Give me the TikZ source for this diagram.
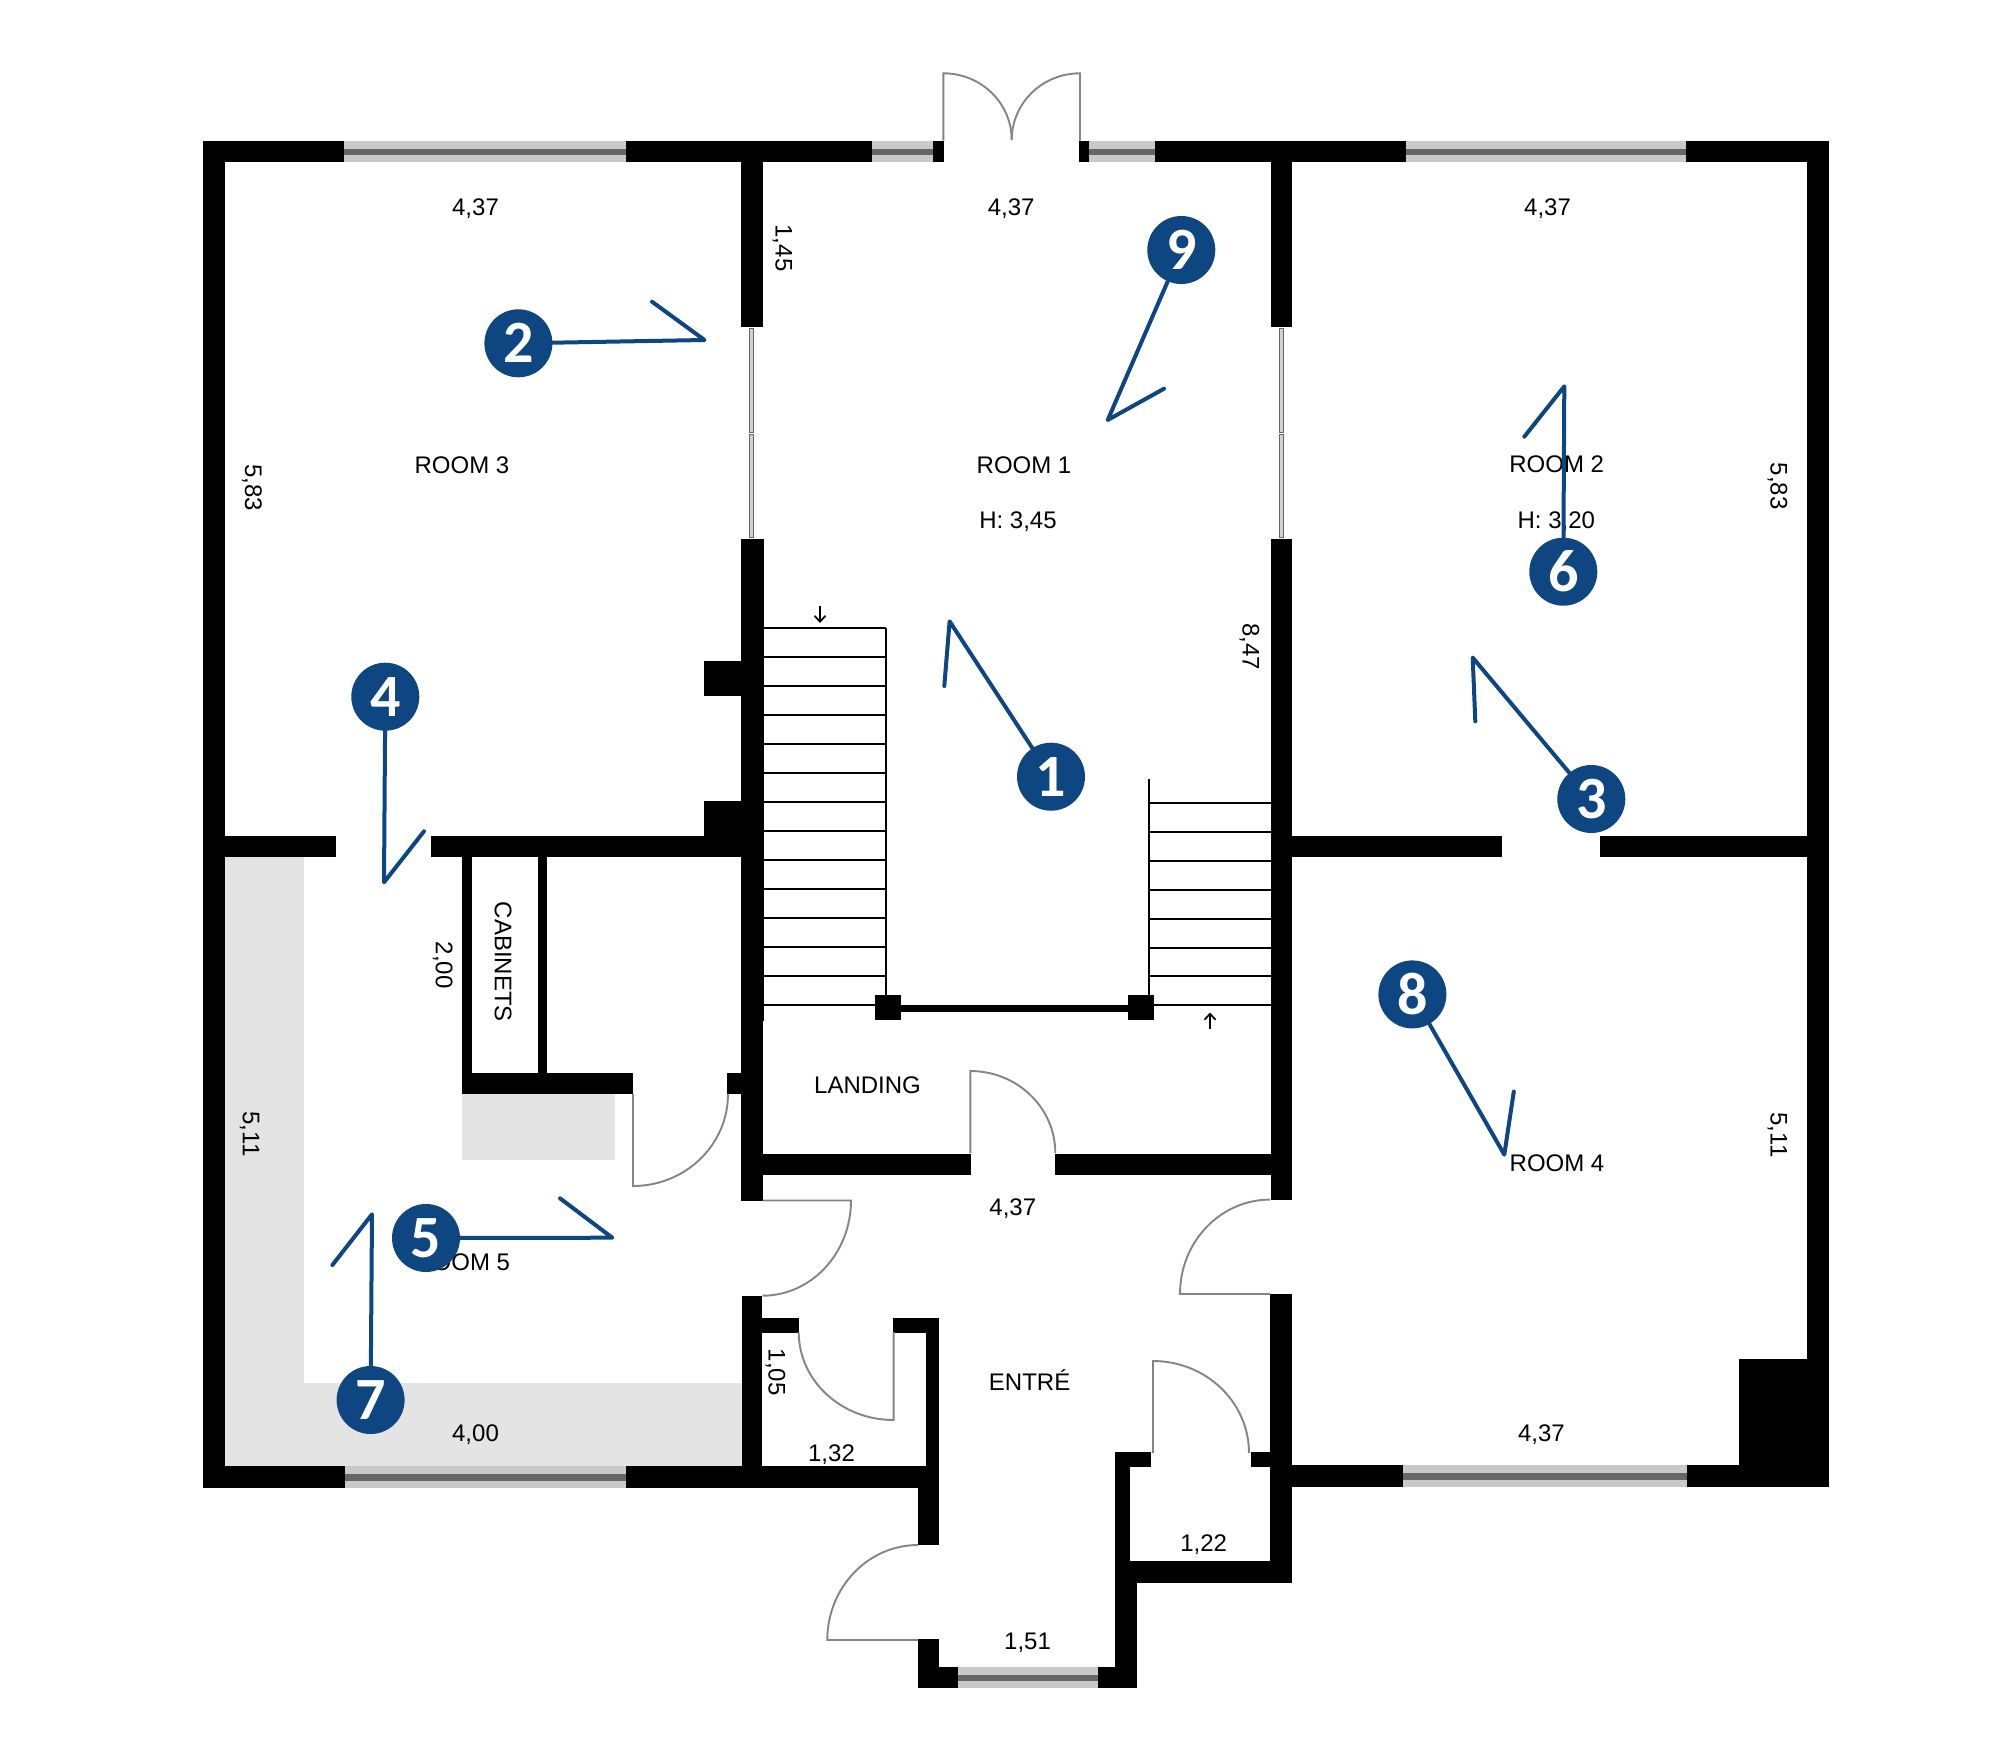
\documentclass[tikz,border=0pt]{standalone}
\usepackage{fontspec}
\setmainfont{Liberation Sans}
\newfontfamily\badgefont{Carlito}[BoldFont={Carlito Bold}]
\usetikzlibrary{arrows.meta}
\definecolor{wallc}{HTML}{000000}
\definecolor{zone}{HTML}{E4E4E4}
\definecolor{glassl}{HTML}{C9C9C9}
\definecolor{glassd}{HTML}{666666}
\definecolor{doorc}{HTML}{858585}
\definecolor{pin}{HTML}{0D4680}
\newcommand{\arcHV}[4]{(#1,#2) .. controls ({#1+0.5523*(#3-(#1))},#2) and (#3,{#4+0.5523*(#2-(#4))}) .. (#3,#4)}
\newcommand{\arcVH}[4]{(#1,#2) .. controls (#1,{#2+0.5523*(#4-(#2))}) and ({#3+0.5523*(#1-(#3))},#4) .. (#3,#4)}
\newcommand{\glassH}[4]{%
  \fill[glassl] (#1,#3) rectangle (#2,#4);
  \fill[glassd] ({#1},{#3+0.37*(#4-#3)}) rectangle ({#2},{#3+0.67*(#4-#3)});}
\tikzset{
  x=1pt,y=-1pt,
  wall/.style={fill=wallc},
  zonefill/.style={fill=zone},
  swing/.style={draw=doorc,line width=1.9pt},
  thinglass/.style={fill=glassl!85!white,draw=black!60,line width=1pt},
  tread/.style={draw=black,line width=2pt},
  dirarrow/.style={draw=black,line width=1.7pt,-{Straight Barb[length=6pt,width=11pt]}},
  lab/.style={inner sep=0pt,text height=17pt,text depth=0pt,font=\fontsize{24}{28}\selectfont},
  vlab/.style={lab,rotate=-90},
  badge/.style={circle,fill=pin,minimum size=68pt,inner sep=0pt,text=white,font=\badgefont\bfseries\fontsize{60}{60}\selectfont},
  sight/.style={draw=pin,line width=4pt,line cap=round,line join=round},
}
\begin{document}
\begin{tikzpicture}
\useasboundingbox (0,0) rectangle (2000,1764);
\fill[white] (0,0) rectangle (2000,1764);
% shaded zones
\fill[zonefill] (224.6,857) rectangle (304,1466);
\fill[zonefill] (224.6,1383.3) rectangle (741.5,1466);
\fill[zonefill] (462,1094.3) rectangle (615,1160);
% windows
\glassH{344.3}{626}{140.7}{162.3}
\glassH{872}{932.7}{140.7}{162.3}
\glassH{1089}{1155}{140.7}{162.3}
\glassH{1405.7}{1686}{140.7}{162.3}
\glassH{345}{626}{1466}{1487.7}
\glassH{1402.8}{1687}{1465}{1487}
\glassH{958}{1098}{1666.7}{1688}
% sliding panels
\draw[thinglass] (749.6,328) rectangle (753.7,432.5);
\draw[thinglass] (749.6,434) rectangle (753.7,537.7);
\draw[thinglass] (1279.6,328) rectangle (1283.6,432.5);
\draw[thinglass] (1279.6,434) rectangle (1283.6,537.7);
% stairs
\foreach \i in {0,...,13} \draw[tread] (764,{628+\i*29.0}) -- (886.3,{628+\i*29.0});
\draw[tread] (886.3,628) -- (886.3,1020);
\draw[tread] (1149,779.3) -- (1149,1000);
\foreach \i in {0,...,7} \draw[tread] (1149,{803.3+\i*28.86}) -- (1271,{803.3+\i*28.86});
% walls
\fill[wall] (202.8,140.7) rectangle (344.3,162.3);
\fill[wall] (626,140.7) rectangle (872,162.3);
\fill[wall] (932.7,140.7) rectangle (944.3,162.3);
\fill[wall] (1079,140.7) rectangle (1089,162.3);
\fill[wall] (1155,140.7) rectangle (1405.7,162.3);
\fill[wall] (1686,140.7) rectangle (1828.6,162.3);
\fill[wall] (202.8,140.7) rectangle (224.6,1487.7);
\fill[wall] (1807,140.7) rectangle (1828.6,1487);
\fill[wall] (741,162) rectangle (762.6,327);
\fill[wall] (741,539) rectangle (764.4,1020.7);
\fill[wall] (741,1020) rectangle (762.6,1201);
\fill[wall] (741.5,1295.5) rectangle (762.4,1487);
\fill[wall] (1270.6,162) rectangle (1291.8,327);
\fill[wall] (1270.6,539) rectangle (1291.8,1199.6);
\fill[wall] (1270.3,1293.7) rectangle (1291.8,1582.5);
\fill[wall] (224,835.7) rectangle (336,857.2);
\fill[wall] (431,835.7) rectangle (741.5,857.2);
\fill[wall] (1291,835.7) rectangle (1502,857.2);
\fill[wall] (1600,835.7) rectangle (1807.5,857.2);
\fill[wall] (704,661) rectangle (741.5,695.7);
\fill[wall] (704,801) rectangle (741.5,836);
\fill[wall] (462,857) rectangle (471.7,1073.6);
\fill[wall] (537.8,857) rectangle (547,1073.6);
\fill[wall] (462,1073.3) rectangle (633,1094.3);
\fill[wall] (727,1073.3) rectangle (741.5,1094.3);
\fill[wall] (762,1153.5) rectangle (971.4,1175);
\fill[wall] (1055,1153.5) rectangle (1271,1175);
\fill[wall] (875,995) rectangle (901,1020);
\fill[wall] (1128,995) rectangle (1153.7,1020);
\fill[wall] (901,1005) rectangle (1128,1011.7);
\fill[wall] (762,1318.3) rectangle (798.7,1332.7);
\fill[wall] (893,1318.3) rectangle (939.4,1332.7);
\fill[wall] (925.6,1318.3) rectangle (939.4,1466.5);
\fill[wall] (202.8,1466) rectangle (345,1487.7);
\fill[wall] (626,1466) rectangle (939.4,1487.7);
\fill[wall] (918,1466) rectangle (939.4,1545);
\fill[wall] (918,1639.3) rectangle (939.4,1688);
\fill[wall] (918,1666.7) rectangle (958,1688);
\fill[wall] (1098,1666.7) rectangle (1137,1688);
\fill[wall] (1115,1561) rectangle (1137,1688);
\fill[wall] (1115,1452.4) rectangle (1129.5,1561.3);
\fill[wall] (1115,1452.4) rectangle (1151,1467);
\fill[wall] (1251,1452.4) rectangle (1271,1467);
\fill[wall] (1115,1561.3) rectangle (1291.8,1582.5);
\fill[wall] (1291,1465) rectangle (1402.8,1487);
\fill[wall] (1687,1465) rectangle (1828.6,1487);
\fill[wall] (1738.9,1359.4) rectangle (1828.6,1487);
% doors
\draw[swing] (943.4,140.7) -- (943.4,73.3) -- \arcHV{943.4}{73.3}{1011.7}{140};
\draw[swing] (1080,140.7) -- (1080,73.3) -- \arcHV{1080}{73.3}{1011.7}{140};
\draw[swing] (633,1094) -- (633,1186) -- \arcHV{633}{1186}{728}{1094};
\draw[swing] (762.8,1200.5) -- (851,1200.5) -- \arcVH{851}{1200.5}{762.5}{1295.7};
\draw[swing] (893.6,1332) -- (893.6,1420) -- \arcHV{893.6}{1420}{798.7}{1332};
\draw[swing] \arcHV{918}{1545}{827.3}{1640} -- (918,1640);
\draw[swing] (970.3,1153) -- (970.3,1071) -- \arcHV{970.3}{1071}{1055.3}{1153};
\draw[swing] \arcHV{1270}{1199.6}{1180}{1294} -- (1270,1294);
\draw[swing] (1153,1453) -- (1153,1361) -- \arcHV{1153}{1361}{1249}{1453};
% stair direction arrows
\coordinate (downa) at (820,606);
\coordinate (downb) at (820,623);
\coordinate (upa) at (1210,1029);
\coordinate (upb) at (1210,1012.5);
\draw[dirarrow] (downa) -- (downb);
\draw[dirarrow] (upa) -- (upb);
% labels
\node[lab] (r3) at (462,465) {ROOM 3};
\node[lab] (r1) at (1024,465) {ROOM 1};
\node[lab] (h1) at (1018,520) {H: 3,45};
\node[lab] (r2) at (1556.7,464) {ROOM 2};
\node[lab] (h2) at (1556.3,520) {H: 3,20};
\node[lab] (r4) at (1557,1163) {ROOM 4};
\node[lab] (r5) at (462.7,1261.7) {ROOM 5};
\node[lab] (land) at (867.5,1085) {LANDING};
\node[lab] (entre) at (1029.6,1381.7) {ENTRÉ};
\node[vlab] (cab) at (503.3,961.7) {CABINETS};
\node[lab] (d1) at (475.5,206.7) {4,37};
\node[lab] (d2) at (1011.2,206.7) {4,37};
\node[lab] (d3) at (1547.5,206.7) {4,37};
\node[lab] (d4) at (1012.8,1207) {4,37};
\node[lab] (d5) at (1541.4,1433) {4,37};
\node[lab] (d6) at (475.5,1433) {4,00};
\node[lab] (d7) at (831.5,1452.7) {1,32};
\node[lab] (d8) at (1203.7,1542.6) {1,22};
\node[lab] (d9) at (1027.5,1640.6) {1,51};
\node[vlab] (v1) at (253.7,487.7) {5,83};
\node[vlab] (v2) at (1779,486.3) {5,83};
\node[vlab] (v3) at (784,248) {1,45};
\node[vlab] (v4) at (1251,646.7) {8,47};
\node[vlab] (v5) at (444.3,965) {2,00};
\node[vlab] (v6) at (251.3,1134) {5,11};
\node[vlab] (v7) at (1779,1135) {5,11};
\node[vlab] (v8) at (777,1372) {1,05};
% viewpoint pins
\node[badge] (p1) at (1051,776.7) {1};
\node[badge] (p2) at (518.4,343.3) {2};
\node[badge] (p3) at (1591.3,799) {3};
\node[badge] (p4) at (385.3,696.7) {4};
\node[badge] (p5) at (426,1238) {5};
\node[badge] (p6) at (1563.3,571.7) {6};
\node[badge] (p7) at (370.6,1400) {7};
\node[badge] (p8) at (1412.4,994.4) {8};
\node[badge] (p9) at (1181.3,250) {9};
\coordinate (t1) at (949.6,621.3); \coordinate (e1) at (944.3,686);
\coordinate (t2) at (704.5,340); \coordinate (e2) at (652,301.7);
\coordinate (t3) at (1472.7,657.6); \coordinate (e3) at (1475.3,721.3);
\coordinate (t4) at (384,882.3); \coordinate (e4) at (424,831.3);
\coordinate (t5) at (612.3,1237.7); \coordinate (e5) at (560,1198.3);
\coordinate (t6) at (1564.3,386.3); \coordinate (e6) at (1524.3,436.7);
\coordinate (t7) at (372,1214.3); \coordinate (e7) at (332.4,1265);
\coordinate (t8) at (1504.3,1154.6); \coordinate (e8) at (1513.8,1091.5);
\coordinate (t9) at (1107.7,420); \coordinate (e9) at (1164,388.7);
\foreach \n in {1,...,9} \draw[sight] (p\n) -- (t\n) -- (e\n);
\end{tikzpicture}
\end{document}
